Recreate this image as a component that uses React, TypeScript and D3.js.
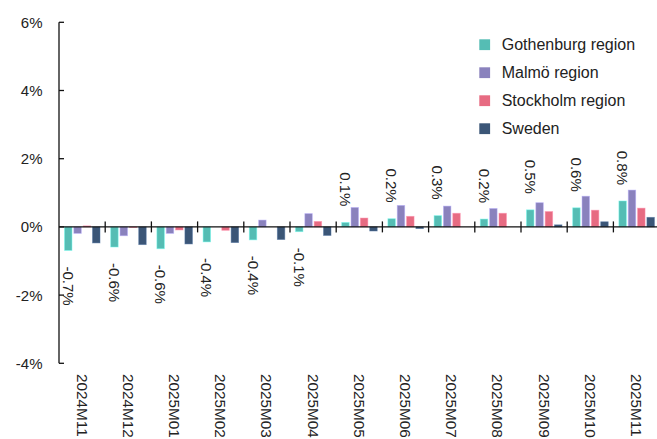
import React from "react";
import * as d3 from "d3";

// Monthly change by region, percent
const months = [
  "2024M11", "2024M12", "2025M01", "2025M02", "2025M03", "2025M04", "2025M05",
  "2025M06", "2025M07", "2025M08", "2025M09", "2025M10", "2025M11",
];
const gothenburg = [-0.69, -0.59, -0.64, -0.44, -0.38, -0.14, 0.13, 0.24, 0.33, 0.23, 0.5, 0.56, 0.76];
const malmo = [-0.19, -0.26, -0.19, 0.0, 0.2, 0.39, 0.57, 0.63, 0.61, 0.54, 0.71, 0.9, 1.08];
const stockholm = [0.03, -0.02, -0.09, -0.1, 0.0, 0.16, 0.26, 0.31, 0.4, 0.4, 0.45, 0.49, 0.55];
const sweden = [-0.47, -0.52, -0.5, -0.46, -0.37, -0.25, -0.12, -0.05, 0.0, 0.0, 0.06, 0.15, 0.28];

const seriesNames = ["Gothenburg region", "Malmö region", "Stockholm region", "Sweden"];
const seriesColors = ["#55bdb4", "#8a82bd", "#e76b82", "#3b5677"];
const yTicks = [-4, -2, 0, 2, 4, 6];

const W = 657;
const H = 439;
const FONT = "'Liberation Sans', Arial, sans-serif";

export default function App() {
  const series = [gothenburg, malmo, stockholm, sweden];
  const y = d3.scaleLinear().domain([-4, 6]).range([363.3, 22.3]);
  const x = d3.scaleBand<string>().domain(months).range([59, 659.6]).padding(0);
  const bw = x.bandwidth();
  const inner = d3
    .scaleBand<string>()
    .domain(seriesNames)
    .range([5.5, bw - 5.2])
    .paddingInner(0.2)
    .paddingOuter(0);
  const y0 = y(0);
  const fmt = (v: number) => v.toFixed(1) + "%";

  return (
    <svg
      width={W}
      height={H}
      style={{ position: "absolute", left: 0, top: 0, background: "#fff" }}
      fontFamily={FONT}
    >
      {/* bars */}
      {months.map((m, i) => (
        <g key={m} transform={`translate(${x(m)},0)`}>
          {series.map((s, k) => {
            const v = s[i];
            const top = Math.min(y(v), y0);
            const h = Math.abs(y(v) - y0);
            return (
              <rect
                key={k}
                x={inner(seriesNames[k])}
                y={top}
                width={inner.bandwidth()}
                height={h}
                fill={seriesColors[k]}
                stroke={d3.color(seriesColors[k])!.brighter(0.8).formatHex()}
                strokeOpacity={0.6}
                strokeWidth={0.8}
              />
            );
          })}
        </g>
      ))}

      {/* value labels for Gothenburg region */}
      {months.map((m, i) => {
        const v = gothenburg[i];
        const cx = (x(m) as number) + (inner(seriesNames[0]) as number) + inner.bandwidth() / 2;
        const ty = v < 0 ? y(v) + 16 : y(v) - 16;
        return (
          <text
            key={m}
            transform={`translate(${cx},${ty}) rotate(90)`}
            textAnchor={v < 0 ? "start" : "end"}
            dominantBaseline="central"
            fontSize={15}
            fill="#222"
          >
            {fmt(v)}
          </text>
        );
      })}

      {/* y axis */}
      <line x1={59} x2={59} y1={y(6)} y2={y(-4)} stroke="#111" strokeWidth={1.3} />
      {yTicks.map((t) => (
        <g key={t}>
          <line x1={59} x2={64} y1={y(t)} y2={y(t)} stroke="#111" strokeWidth={1.3} />
          <text
            x={42.5}
            y={y(t)}
            textAnchor="end"
            dominantBaseline="central"
            fontSize={15}
            fill="#222"
          >
            {t + "%"}
          </text>
        </g>
      ))}

      {/* zero line with category boundary ticks */}
      <line x1={59} x2={W} y1={y0} y2={y0} stroke="#111" strokeWidth={1.3} />
      {months.slice(1).map((m) => (
        <line
          key={m}
          x1={x(m)}
          x2={x(m)}
          y1={y0 - 5.5}
          y2={y0 + 5.5}
          stroke="#111"
          strokeWidth={1.3}
        />
      ))}

      {/* category labels */}
      {months.map((m) => (
        <text
          key={m}
          transform={`translate(${(x(m) as number) + bw / 2},374) rotate(90)`}
          textAnchor="start"
          dominantBaseline="central"
          fontSize={15.3}
          fill="#222"
        >
          {m}
        </text>
      ))}

      {/* legend */}
      {seriesNames.map((n, k) => (
        <g key={n} transform={`translate(479.3,${44.7 + k * 28})`}>
          <rect x={0} y={-5.4} width={10.8} height={10.8} fill={seriesColors[k]} />
          <text x={22.4} y={0} dominantBaseline="central" fontSize={16} fill="#222">
            {n}
          </text>
        </g>
      ))}
    </svg>
  );
}
